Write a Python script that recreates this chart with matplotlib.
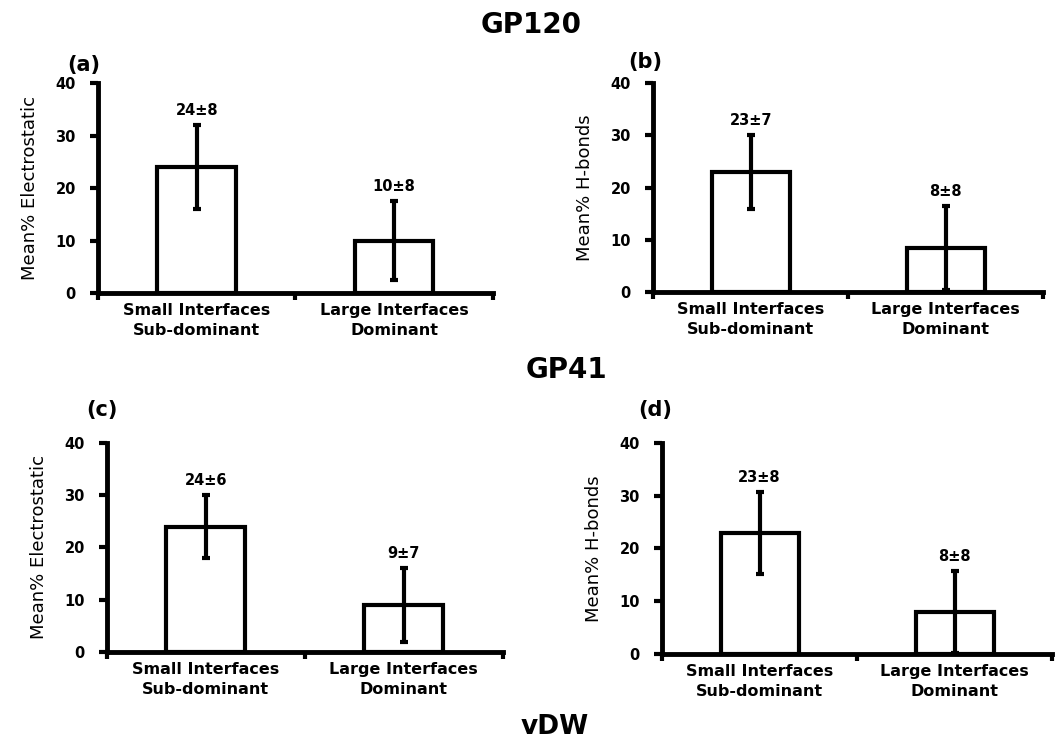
import matplotlib
matplotlib.use('Agg')
import matplotlib.pyplot as plt
import numpy as np

# Data
categories = ['Small Interfaces\nSub-dominant', 'Large Interfaces\nDominant']

elec_gp120 = [24, 10]
elec_gp120_err = [8, 7.6]
elec_gp120_lbl = ['24±8', '10±8']

hb_gp120 = [23, 8.5]
hb_gp120_err = [7, 8]
hb_gp120_lbl = ['23±7', '8±8']

elec_gp41 = [24, 9]
elec_gp41_err = [6, 7]
elec_gp41_lbl = ['24±6', '9±7']

hb_gp41 = [23, 8]
hb_gp41_err = [7.8, 7.8]
hb_gp41_lbl = ['23±8', '8±8']

yticks = [0, 10, 20, 30, 40]

fig = plt.figure(figsize=(10.55, 7.42), dpi=100)

def panel(rect, vals, errs, lbls, ylabel, tag, tagpos):
    ax = fig.add_axes(rect)
    x = np.arange(len(vals))
    ax.bar(x, vals, width=0.4, color='white', edgecolor='black', linewidth=3)
    ax.errorbar(x, vals, yerr=errs, fmt='none', ecolor='black',
                elinewidth=3, capsize=3, capthick=3)
    for xi, v, e, t in zip(x, vals, errs, lbls):
        ax.annotate(t, (xi, v + e), xytext=(0, 5), textcoords='offset points',
                    ha='center', va='bottom', fontsize=10.5, fontweight='bold')
    ax.set_xlim(-0.5, 1.5)
    ax.set_ylim(0, 40)
    ax.set_yticks(yticks)
    ax.set_xticks(x)
    ax.set_xticklabels(categories, fontsize=11.5, fontweight='bold',
                       linespacing=1.45)
    ax.set_xticks([-0.5, 0.5, 1.5], minor=True)
    ax.tick_params(axis='x', which='major', length=0, pad=7)
    ax.tick_params(axis='x', which='minor', length=5, width=3, direction='out')
    ax.tick_params(axis='y', length=6, width=3, labelsize=10.5, pad=10)
    for lab in ax.get_yticklabels():
        lab.set_fontweight('bold')
    for s in ['top', 'right']:
        ax.spines[s].set_visible(False)
    for s in ['left', 'bottom']:
        ax.spines[s].set_linewidth(3.5)
    ax.set_ylabel(ylabel, family='DejaVu Sans', fontsize=13, labelpad=12)
    fig.text(tagpos[0], tagpos[1], tag, fontsize=15, fontweight='bold',
             ha='center', va='center')
    return ax

panel([0.093, 0.605, 0.374, 0.283], elec_gp120, elec_gp120_err,
      elec_gp120_lbl, 'Mean% Electrostatic', '(a)', (84/1055, 1 - 65/742))
panel([0.619, 0.606, 0.370, 0.282], hb_gp120, hb_gp120_err,
      hb_gp120_lbl, 'Mean% H-bonds', '(b)', (645/1055, 1 - 62/742))
panel([0.1014, 0.1213, 0.375, 0.2817], elec_gp41, elec_gp41_err,
      elec_gp41_lbl, 'Mean% Electrostatic', '(c)', (102/1055, 1 - 410/742))
panel([0.6275, 0.1186, 0.37, 0.2844], hb_gp41, hb_gp41_err,
      hb_gp41_lbl, 'Mean% H-bonds', '(d)', (655/1055, 1 - 410/742))

fig.text(531/1055, 1 - 25/742, 'GP120', fontsize=20, fontweight='bold',
         ha='center', va='center')
fig.text(566/1055, 1 - 370/742, 'GP41', fontsize=20, fontweight='bold',
         ha='center', va='center')
fig.text(555/1055, 1 - 727/742, 'vDW', fontsize=19, fontweight='bold',
         ha='center', va='center')

fig.savefig('out.png', dpi=100)
